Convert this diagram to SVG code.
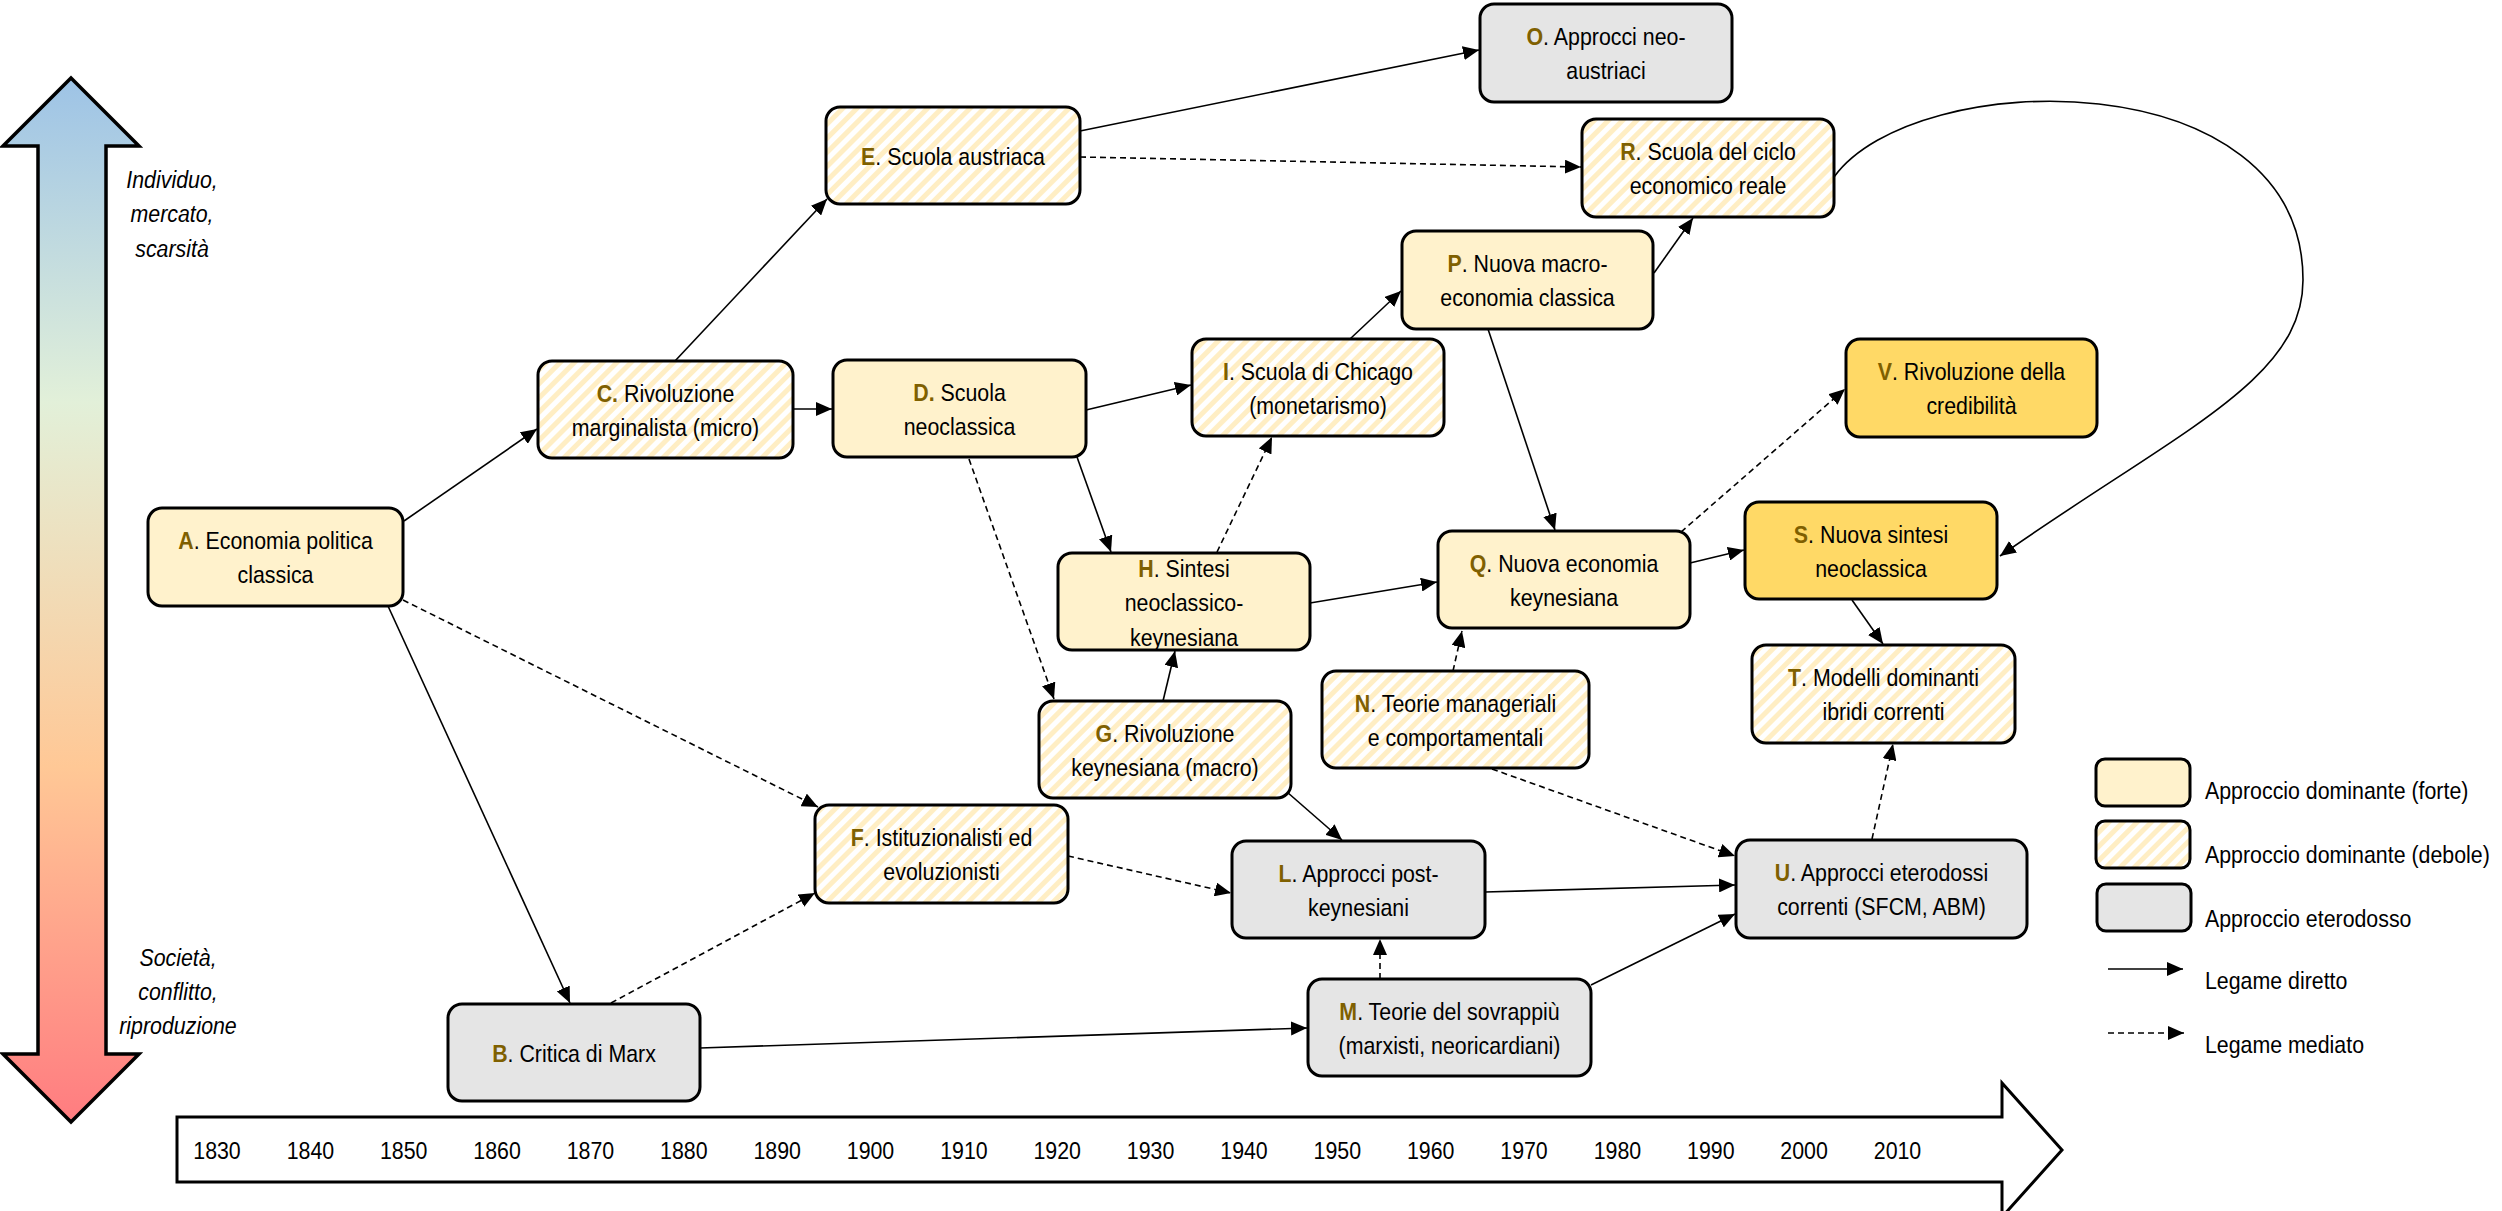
<svg xmlns="http://www.w3.org/2000/svg" width="2502" height="1211" viewBox="0 0 2502 1211">
<defs>
<style>
.t{font-family:"Liberation Sans",Arial,sans-serif;font-size:24px;fill:#000;text-anchor:middle}
.k{font-weight:bold;fill:#7F6000}
.lg{font-family:"Liberation Sans",Arial,sans-serif;font-size:24px;fill:#000;text-anchor:start}
.it{font-family:"Liberation Sans",Arial,sans-serif;font-size:24px;font-style:italic;fill:#000;text-anchor:middle}
.yr{font-family:"Liberation Sans",Arial,sans-serif;font-size:24px;fill:#000;text-anchor:middle}
.box{stroke:#000;stroke-width:3}
.strong{fill:#FFF2CC}
.weak{fill:url(#hatch)}
.gray{fill:#E5E5E5}
.dark{fill:#FFD966}
.c{fill:none;stroke:#000;stroke-width:1.6;marker-end:url(#ah)}
.d{stroke-dasharray:6 4}
</style>
<pattern id="hatch" patternUnits="userSpaceOnUse" width="10" height="10" patternTransform="rotate(45)">
<rect width="10" height="10" fill="#FFFFFF"/>
<rect width="5" height="10" fill="#FFEEC4"/>
</pattern>
<linearGradient id="vg" gradientUnits="userSpaceOnUse" x1="0" y1="78" x2="0" y2="1122">
<stop offset="0" stop-color="#9DC3E6"/>
<stop offset="0.31" stop-color="#E2F0D9"/>
<stop offset="0.66" stop-color="#FFC896"/>
<stop offset="1" stop-color="#FF7C80"/>
</linearGradient>
<marker id="ah" markerUnits="userSpaceOnUse" markerWidth="16" markerHeight="14" refX="16" refY="7" orient="auto">
<path d="M0,0 L16,7 L0,14 z" fill="#000"/>
</marker>
</defs>
<rect width="2502" height="1211" fill="#FFFFFF"/>

<g id="axis-vertical">
<polygon points="71,78 139,146 106,146 106,1054 139,1054 71,1122 3,1054 38,1054 38,146 3,146" fill="url(#vg)" stroke="#000" stroke-width="3.5"/>
<text class="it" transform="translate(172 0) scale(.89 1)"><tspan x="0" y="188">Individuo,</tspan><tspan x="0" y="222">mercato,</tspan><tspan x="0" y="257">scarsità</tspan></text>
<text class="it" transform="translate(178 0) scale(.89 1)"><tspan x="0" y="966">Società,</tspan><tspan x="0" y="1000">conflitto,</tspan><tspan x="0" y="1034">riproduzione</tspan></text>
</g>

<g id="axis-time">
<polygon points="177,1117 2002,1117 2002,1083 2062,1150 2002,1217 2002,1182 177,1182" fill="#FFFFFF" stroke="#000" stroke-width="3"/>
<g class="yr">
<text transform="translate(217 0) scale(.89 1)" x="0" y="1159">1830</text>
<text transform="translate(310.4 0) scale(.89 1)" x="0" y="1159">1840</text>
<text transform="translate(403.7 0) scale(.89 1)" x="0" y="1159">1850</text>
<text transform="translate(497.1 0) scale(.89 1)" x="0" y="1159">1860</text>
<text transform="translate(590.4 0) scale(.89 1)" x="0" y="1159">1870</text>
<text transform="translate(683.8 0) scale(.89 1)" x="0" y="1159">1880</text>
<text transform="translate(777.2 0) scale(.89 1)" x="0" y="1159">1890</text>
<text transform="translate(870.5 0) scale(.89 1)" x="0" y="1159">1900</text>
<text transform="translate(963.9 0) scale(.89 1)" x="0" y="1159">1910</text>
<text transform="translate(1057.2 0) scale(.89 1)" x="0" y="1159">1920</text>
<text transform="translate(1150.6 0) scale(.89 1)" x="0" y="1159">1930</text>
<text transform="translate(1244 0) scale(.89 1)" x="0" y="1159">1940</text>
<text transform="translate(1337.3 0) scale(.89 1)" x="0" y="1159">1950</text>
<text transform="translate(1430.7 0) scale(.89 1)" x="0" y="1159">1960</text>
<text transform="translate(1524 0) scale(.89 1)" x="0" y="1159">1970</text>
<text transform="translate(1617.4 0) scale(.89 1)" x="0" y="1159">1980</text>
<text transform="translate(1710.8 0) scale(.89 1)" x="0" y="1159">1990</text>
<text transform="translate(1804.1 0) scale(.89 1)" x="0" y="1159">2000</text>
<text transform="translate(1897.5 0) scale(.89 1)" x="0" y="1159">2010</text>
</g>
</g>

<g id="connectors">
<line class="c" x1="404" y1="521" x2="537" y2="429"/>
<line class="c" x1="388" y1="606" x2="570" y2="1003"/>
<line class="c" x1="675" y1="361" x2="827" y2="199"/>
<line class="c" x1="793" y1="409" x2="832" y2="409"/>
<line class="c" x1="1086" y1="410" x2="1191" y2="385"/>
<line class="c" x1="1077" y1="457" x2="1111" y2="552"/>
<line class="c" x1="1080" y1="131" x2="1479" y2="50"/>
<line class="c" x1="1350" y1="339" x2="1401" y2="291"/>
<line class="c" x1="1654" y1="273" x2="1693" y2="218"/>
<line class="c" x1="1488" y1="329" x2="1555" y2="530"/>
<line class="c" x1="1310" y1="603" x2="1437" y2="582"/>
<line class="c" x1="1163" y1="701" x2="1175" y2="651"/>
<line class="c" x1="1690" y1="563" x2="1744" y2="550"/>
<line class="c" x1="1852" y1="600" x2="1883" y2="644"/>
<line class="c" x1="1287" y1="792" x2="1342" y2="840"/>
<line class="c" x1="1485" y1="892" x2="1735" y2="885"/>
<line class="c" x1="1591" y1="985" x2="1735" y2="914"/>
<line class="c" x1="700" y1="1048" x2="1307" y2="1028"/>
<path class="c" d="M1834,177 C1915,65 2303,60 2303,280 C2303,380 2180,430 2000,556"/>
<line class="c d" x1="403" y1="600" x2="818" y2="807"/>
<line class="c d" x1="611" y1="1003" x2="815" y2="893"/>
<line class="c d" x1="1068" y1="856" x2="1231" y2="893"/>
<line class="c d" x1="969" y1="459" x2="1054" y2="699"/>
<line class="c d" x1="1080" y1="157" x2="1581" y2="167"/>
<line class="c d" x1="1217" y1="552" x2="1272" y2="437"/>
<line class="c d" x1="1453" y1="671" x2="1462" y2="631"/>
<line class="c d" x1="1681" y1="532" x2="1845" y2="389"/>
<line class="c d" x1="1492" y1="769" x2="1735" y2="856"/>
<line class="c d" x1="1380" y1="979" x2="1380" y2="939"/>
<line class="c d" x1="1872" y1="839" x2="1893" y2="744"/>
</g>

<g id="A"><rect class="box strong" x="148" y="508" width="255" height="98" rx="14"/>
<text class="t" transform="translate(275.5 0) scale(.89 1)"><tspan x="0" y="549"><tspan class="k">A</tspan>. Economia politica</tspan><tspan x="0" y="583">classica</tspan></text></g>

<g id="B"><rect class="box gray" x="448" y="1004" width="252" height="97" rx="14"/>
<text class="t" transform="translate(574 0) scale(.89 1)"><tspan x="0" y="1062"><tspan class="k">B</tspan>. Critica di Marx</tspan></text></g>

<g id="C"><rect class="box weak" x="538" y="361" width="255" height="97" rx="14"/>
<text class="t" transform="translate(665.5 0) scale(.89 1)"><tspan x="0" y="402"><tspan class="k">C.</tspan> Rivoluzione</tspan><tspan x="0" y="436">marginalista (micro)</tspan></text></g>

<g id="D"><rect class="box strong" x="833" y="360" width="253" height="97" rx="14"/>
<text class="t" transform="translate(959.5 0) scale(.89 1)"><tspan x="0" y="401"><tspan class="k">D.</tspan> Scuola</tspan><tspan x="0" y="435">neoclassica</tspan></text></g>

<g id="E"><rect class="box weak" x="826" y="107" width="254" height="97" rx="14"/>
<text class="t" transform="translate(953 0) scale(.89 1)"><tspan x="0" y="165"><tspan class="k">E</tspan>. Scuola austriaca</tspan></text></g>

<g id="F"><rect class="box weak" x="815" y="805" width="253" height="98" rx="14"/>
<text class="t" transform="translate(941.5 0) scale(.89 1)"><tspan x="0" y="846"><tspan class="k">F</tspan>. Istituzionalisti ed</tspan><tspan x="0" y="880">evoluzionisti</tspan></text></g>

<g id="G"><rect class="box weak" x="1039" y="701" width="252" height="97" rx="14"/>
<text class="t" transform="translate(1165 0) scale(.89 1)"><tspan x="0" y="742"><tspan class="k">G</tspan>. Rivoluzione</tspan><tspan x="0" y="776">keynesiana (macro)</tspan></text></g>

<g id="H"><rect class="box strong" x="1058" y="553" width="252" height="97" rx="14"/>
<text class="t" transform="translate(1184 0) scale(.89 1)"><tspan x="0" y="577"><tspan class="k">H</tspan>. Sintesi</tspan><tspan x="0" y="611">neoclassico-</tspan><tspan x="0" y="646">keynesiana</tspan></text></g>

<g id="I"><rect class="box weak" x="1192" y="339" width="252" height="97" rx="14"/>
<text class="t" transform="translate(1318 0) scale(.89 1)"><tspan x="0" y="380"><tspan class="k">I</tspan>. Scuola di Chicago</tspan><tspan x="0" y="414">(monetarismo)</tspan></text></g>

<g id="L"><rect class="box gray" x="1232" y="841" width="253" height="97" rx="14"/>
<text class="t" transform="translate(1358.5 0) scale(.89 1)"><tspan x="0" y="882"><tspan class="k">L</tspan>. Approcci post-</tspan><tspan x="0" y="916">keynesiani</tspan></text></g>

<g id="M"><rect class="box gray" x="1308" y="979" width="283" height="97" rx="14"/>
<text class="t" transform="translate(1449.5 0) scale(.89 1)"><tspan x="0" y="1020"><tspan class="k">M</tspan>. Teorie del sovrappiù</tspan><tspan x="0" y="1054">(marxisti, neoricardiani)</tspan></text></g>

<g id="N"><rect class="box weak" x="1322" y="671" width="267" height="97" rx="14"/>
<text class="t" transform="translate(1455.5 0) scale(.89 1)"><tspan x="0" y="712"><tspan class="k">N</tspan>. Teorie manageriali</tspan><tspan x="0" y="746">e comportamentali</tspan></text></g>

<g id="O"><rect class="box gray" x="1480" y="4" width="252" height="98" rx="14"/>
<text class="t" transform="translate(1606 0) scale(.89 1)"><tspan x="0" y="45"><tspan class="k">O</tspan>. Approcci neo-</tspan><tspan x="0" y="79">austriaci</tspan></text></g>

<g id="P"><rect class="box strong" x="1402" y="231" width="251" height="98" rx="14"/>
<text class="t" transform="translate(1527.5 0) scale(.89 1)"><tspan x="0" y="272"><tspan class="k">P</tspan>. Nuova macro-</tspan><tspan x="0" y="306">economia classica</tspan></text></g>

<g id="Q"><rect class="box strong" x="1438" y="531" width="252" height="97" rx="14"/>
<text class="t" transform="translate(1564 0) scale(.89 1)"><tspan x="0" y="572"><tspan class="k">Q</tspan>. Nuova economia</tspan><tspan x="0" y="606">keynesiana</tspan></text></g>

<g id="R"><rect class="box weak" x="1582" y="119" width="252" height="98" rx="14"/>
<text class="t" transform="translate(1708 0) scale(.89 1)"><tspan x="0" y="160"><tspan class="k">R</tspan>. Scuola del ciclo</tspan><tspan x="0" y="194">economico reale</tspan></text></g>

<g id="S"><rect class="box dark" x="1745" y="502" width="252" height="97" rx="14"/>
<text class="t" transform="translate(1871 0) scale(.89 1)"><tspan x="0" y="543"><tspan class="k">S</tspan>. Nuova sintesi</tspan><tspan x="0" y="577">neoclassica</tspan></text></g>

<g id="T"><rect class="box weak" x="1752" y="645" width="263" height="98" rx="14"/>
<text class="t" transform="translate(1883.5 0) scale(.89 1)"><tspan x="0" y="686"><tspan class="k">T</tspan>. Modelli dominanti</tspan><tspan x="0" y="720">ibridi correnti</tspan></text></g>

<g id="U"><rect class="box gray" x="1736" y="840" width="291" height="98" rx="14"/>
<text class="t" transform="translate(1881.5 0) scale(.89 1)"><tspan x="0" y="881"><tspan class="k">U</tspan>. Approcci eterodossi</tspan><tspan x="0" y="915">correnti (SFCM, ABM)</tspan></text></g>

<g id="V"><rect class="box dark" x="1846" y="339" width="251" height="98" rx="14"/>
<text class="t" transform="translate(1971.5 0) scale(.89 1)"><tspan x="0" y="380"><tspan class="k">V</tspan>. Rivoluzione della</tspan><tspan x="0" y="414">credibilità</tspan></text></g>

<g id="legend">
<rect class="box strong" x="2096" y="759" width="94" height="47" rx="9"/>
<rect class="box weak" x="2096" y="821" width="94" height="47" rx="9"/>
<rect class="box gray" x="2097" y="884" width="94" height="47" rx="9"/>
<line class="c" x1="2108" y1="969" x2="2183" y2="969"/>
<line class="c d" x1="2108" y1="1033" x2="2184" y2="1033"/>
<text class="lg" transform="translate(2205 0) scale(.89 1)" x="0" y="799">Approccio dominante (forte)</text>
<text class="lg" transform="translate(2205 0) scale(.89 1)" x="0" y="863">Approccio dominante (debole)</text>
<text class="lg" transform="translate(2205 0) scale(.89 1)" x="0" y="927">Approccio eterodosso</text>
<text class="lg" transform="translate(2205 0) scale(.89 1)" x="0" y="989">Legame diretto</text>
<text class="lg" transform="translate(2205 0) scale(.89 1)" x="0" y="1053">Legame mediato</text>
</g>
</svg>
